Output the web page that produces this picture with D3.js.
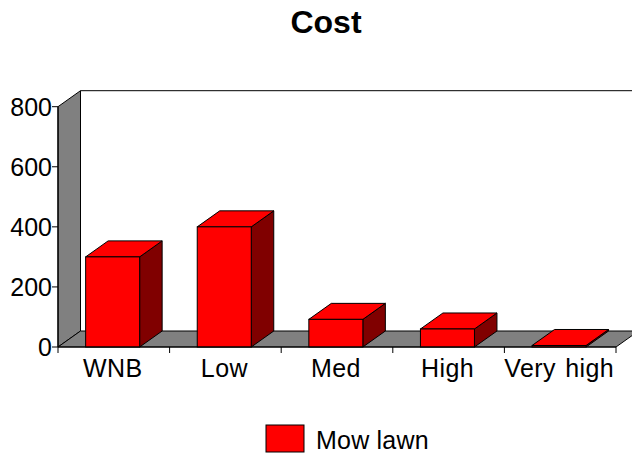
<!DOCTYPE html>
<html>
<head>
<meta charset="utf-8">
<script src="https://cdn.jsdelivr.net/npm/d3@7"></script>
<style>
  html, body { margin: 0; padding: 0; background: #fff; }
  svg { display: block; }
  text { font-family: "Liberation Sans", Arial, sans-serif; fill: #000; }
</style>
</head>
<body>
<svg id="chart" width="632" height="456"></svg>
<script>
const categories = ["WNB", "Low", "Med", "High", "Very high"];
const mowLawn = [300, 400, 92, 60, 5];
const valueTicks = [0, 200, 400, 600, 800];
const seriesName = "Mow lawn";
const chartTitle = "Cost";

const svg = d3.select("#chart");
const plotLeft = 58, plotRight = 616, plotBottom = 347, plotTop = 106.7;
const depthX = 22.5, depthY = -16;

const x = d3.scaleBand().domain(categories).range([plotLeft, plotRight])
  .paddingInner(0.516).paddingOuter(0.258).align(0.48);
const y = d3.scaleLinear().domain([0, 800]).range([plotBottom, plotTop]);

const poly = pts => pts.map(p => p.join(",")).join(" ");

// Side wall and floor of the 3D frame
svg.append("polygon")
  .attr("points", poly([[plotLeft, plotBottom], [plotLeft + depthX, plotBottom + depthY], [plotLeft + depthX, plotTop + depthY], [plotLeft, plotTop]]))
  .attr("fill", "#808080").attr("stroke", "#000").attr("stroke-width", 1);
svg.append("polygon")
  .attr("points", poly([[plotLeft, plotBottom], [plotLeft + depthX, plotBottom + depthY], [plotRight + depthX, plotBottom + depthY], [plotRight, plotBottom]]))
  .attr("fill", "#808080").attr("stroke", "#000").attr("stroke-width", 1);
svg.append("line")
  .attr("x1", plotLeft + depthX).attr("x2", plotRight + depthX)
  .attr("y1", plotTop + depthY).attr("y2", plotTop + depthY)
  .attr("stroke", "#000").attr("stroke-width", 1);

// Bars: right side, top, front
const bars = svg.append("g").selectAll("g").data(categories).join("g");
const x0 = d => x(d), x1 = d => x(d) + x.bandwidth();
const yv = (d, i) => y(mowLawn[i]);

bars.append("polygon")
  .attr("points", (d, i) => poly([[x1(d), yv(d, i)], [x1(d) + depthX, yv(d, i) + depthY], [x1(d) + depthX, plotBottom + depthY], [x1(d), plotBottom]]))
  .attr("fill", "#800000").attr("stroke", "#000").attr("stroke-width", 1);
bars.append("polygon")
  .attr("points", (d, i) => poly([[x0(d), yv(d, i)], [x0(d) + depthX, yv(d, i) + depthY], [x1(d) + depthX, yv(d, i) + depthY], [x1(d), yv(d, i)]]))
  .attr("fill", "#ff0000").attr("stroke", "#000").attr("stroke-width", 1);
bars.append("rect")
  .attr("x", d => x0(d)).attr("y", (d, i) => yv(d, i))
  .attr("width", x.bandwidth()).attr("height", (d, i) => plotBottom - yv(d, i))
  .attr("fill", "#ff0000").attr("stroke", "#000").attr("stroke-width", 1);

// Value axis
const yAxis = svg.append("g");
yAxis.append("line")
  .attr("x1", plotLeft).attr("x2", plotLeft).attr("y1", plotTop).attr("y2", plotBottom)
  .attr("stroke", "#000").attr("stroke-width", 1.2);
const yTick = yAxis.selectAll("g").data(valueTicks).join("g")
  .attr("transform", d => `translate(0,${y(d)})`);
yTick.append("line").attr("x1", plotLeft - 6).attr("x2", plotLeft)
  .attr("stroke", "#000").attr("stroke-width", 1);
yTick.append("text").attr("x", 52).attr("dy", "0.36em")
  .attr("text-anchor", "end").attr("font-size", 25).text(d => d);

// Category axis
svg.append("line").attr("x1", plotLeft).attr("x2", plotRight).attr("y1", plotBottom).attr("y2", plotBottom)
  .attr("stroke", "#000").attr("stroke-width", 1.2);
const step = (plotRight - plotLeft) / categories.length;
svg.append("g").selectAll("line").data(d3.range(categories.length + 1)).join("line")
  .attr("x1", i => plotLeft + i * step).attr("x2", i => plotLeft + i * step)
  .attr("y1", plotBottom).attr("y2", plotBottom + 6)
  .attr("stroke", "#000").attr("stroke-width", 1);
svg.append("g").selectAll("text").data(categories).join("text")
  .attr("x", (d, i) => plotLeft + (i + 0.5) * step - 1)
  .attr("y", 377)
  .attr("text-anchor", "middle").attr("font-size", 25).attr("letter-spacing", 0.4).attr("word-spacing", 2).text(d => d);

// Title
svg.append("text").attr("x", 326).attr("y", 33)
  .attr("text-anchor", "middle").attr("font-size", 32).attr("font-weight", "bold").text(chartTitle);

// Legend
svg.append("rect").attr("x", 266).attr("y", 425).attr("width", 38).attr("height", 27)
  .attr("fill", "#ff0000").attr("stroke", "#000").attr("stroke-width", 1);
svg.append("text").attr("x", 316).attr("y", 449).attr("font-size", 25).attr("letter-spacing", 0.2).text(seriesName);
</script>
</body>
</html>
